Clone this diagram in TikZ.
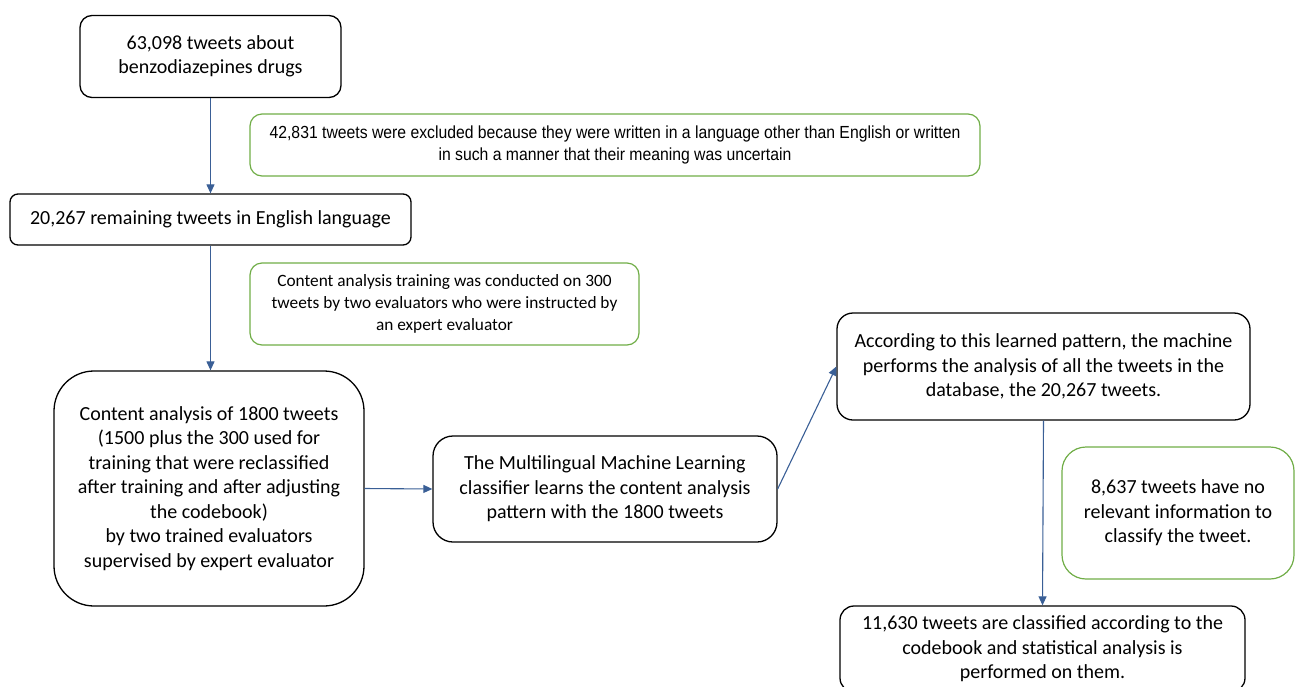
\documentclass[tikz,border=0pt]{standalone}
\usepackage{fontspec}
\setmainfont{Carlito}
\newfontfamily\narrowfont[FakeStretch=0.9]{Liberation Sans}
\usetikzlibrary{arrows.meta}
\definecolor{flowblue}{HTML}{3A5F96}
\definecolor{notegreen}{HTML}{70AD47}
\tikzset{
  stagebox/.style={draw=black, line width=1.3pt, rounded corners=12pt, align=center,
    inner sep=0pt, font=\fontsize{20}{24.5}\selectfont},
  notebox/.style={draw=notegreen, line width=1.2pt, rounded corners=12pt, align=center,
    inner sep=0pt, font=\fontsize{17.3}{22}\selectfont},
  flow/.style={flowblue, line width=1.1pt, -{Triangle[length=9pt,width=8pt]}},
}
\begin{document}
\begin{tikzpicture}[x=1pt,y=-1pt]
  \useasboundingbox (0,0) rectangle (1295,686);
  \clip (0,0) rectangle (1295,686);
  % left column
  \node[stagebox, minimum width=261pt, minimum height=82pt] (tweets) at (210.5,56.5)
    {63,098 tweets about\\benzodiazepines drugs};
  \node[stagebox, minimum width=401pt, minimum height=51pt, rounded corners=8pt] (english) at (210.5,219.5)
    {20,267 remaining tweets in English language};
  \node[stagebox, minimum width=310pt, minimum height=235pt, rounded corners=40pt] (coding) at (209,488.5)
    {Content analysis of 1800 tweets\\(1500 plus the 300 used for\\training that were reclassified\\after training and after adjusting\\the codebook)\\by two trained evaluators\\supervised by expert evaluator};
  % notes
  \node[notebox, minimum width=730pt, minimum height=62pt, font=\narrowfont\fontsize{17.5}{22}\selectfont] (excluded) at (615,145)
    {42,831 tweets were excluded because they were written in a language other than English or written\\in such a manner that their meaning was uncertain};
  \node[notebox, minimum width=389pt, minimum height=82pt] (training) at (444.5,304)
    {Content analysis training was conducted on 300\\tweets by two evaluators who were instructed by\\an expert evaluator};
  % machine learning part
  \node[stagebox, minimum width=344pt, minimum height=106pt, rounded corners=20pt] (learner) at (605,489)
    {The Multilingual Machine Learning\\classifier learns the content analysis\\pattern with the 1800 tweets};
  \node[stagebox, minimum width=413pt, minimum height=107pt, rounded corners=16pt] (applied) at (1043.5,366.5)
    {According to this learned pattern, the machine\\performs the analysis of all the tweets in the\\database, the 20,267 tweets.};
  \node[notebox, minimum width=232pt, minimum height=132pt, rounded corners=24pt, font=\fontsize{20}{24.5}\selectfont] (irrelevant) at (1178,513)
    {8,637 tweets have no\\relevant information to\\classify the tweet.};
  \node[stagebox, minimum width=405pt, minimum height=86pt, rounded corners=14pt] (classified) at (1042.5,649)
    {11,630 tweets are classified according to the\\codebook and statistical analysis is\\performed on them.};
  % connectors
  \draw[flow] (tweets.south) -- (english.north);
  \draw[flow] (english.south) -- (english.south |- coding.north);
  \draw[flow] (coding.east) -- (learner.west);
  \draw[flow] (learner.east) -- (applied.west);
  \draw[flow] (applied.south) -- (classified.north);
\end{tikzpicture}
\end{document}
